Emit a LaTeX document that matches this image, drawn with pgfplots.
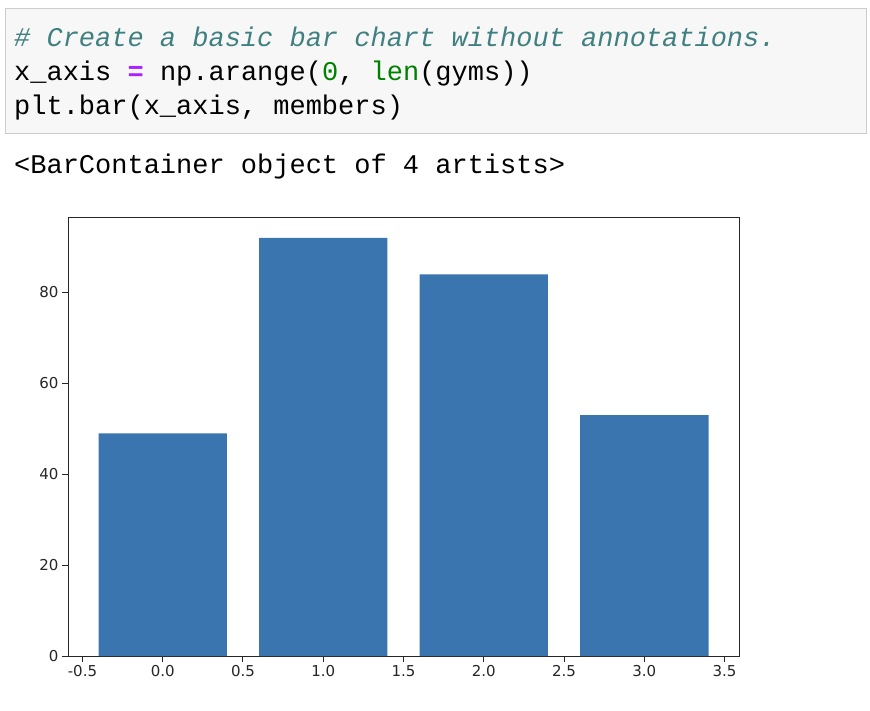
\documentclass[border=0pt]{standalone}
\usepackage{pgfplots}
\pgfplotsset{compat=1.18}
\usepackage{fontspec}
\setmainfont{DejaVu Sans}
\newfontfamily\code{Liberation Mono}
\definecolor{barc}{HTML}{3A75B0}
\definecolor{cm}{HTML}{408080}
\definecolor{op}{HTML}{AA22FF}
\definecolor{gr}{HTML}{008000}
\begin{document}
\begin{tikzpicture}
\path[use as bounding box,fill=white] (0,0) rectangle (870pt,-710pt);
\fill[fill=black!3,draw=black!20,line width=1pt] (5pt,-8pt) rectangle (866pt,-133pt);
\begin{scope}[every node/.style={anchor=base west,inner sep=0pt,font=\code\fontsize{27pt}{27pt}\selectfont}]
\node at (14pt,-46pt) {\color{cm}\itshape \# Create a basic bar chart without annotations.};
\node at (14pt,-80pt) {x\_axis {\color{op}\bfseries =} np.arange({\color{gr}0}, {\color{gr}len}(gyms))};
\node at (14pt,-114pt) {plt.bar(x\_axis, members)};
\node at (14pt,-173pt) {<BarContainer object of 4 artists>};
\end{scope}
\begin{axis}[at={(68pt,-656pt)},anchor=south west,scale only axis,
  width=671pt,height=439pt,
  xmin=-0.59,xmax=3.59,ymin=0,ymax=96.6,
  xtick={-0.5,0,...,3.5},ytick={0,20,...,80},
  xticklabel style={/pgf/number format/.cd,fixed,fixed zerofill,precision=1},
  /pgf/number format/assume math mode=true,
  tick label style={font=\fontsize{15pt}{15pt}\selectfont,text=black!85},
  tick align=outside,major tick length=6pt,tick style={black!85,line width=1pt},
  xtick pos=bottom,ytick pos=left,
  axis line style={black!85,line width=1pt},
  ]
\addplot[ybar,bar width=0.8,bar shift=0pt,fill=barc,draw=none] coordinates {(0,49) (1,92) (2,84) (3,53)};
\end{axis}
\end{tikzpicture}
\end{document}
